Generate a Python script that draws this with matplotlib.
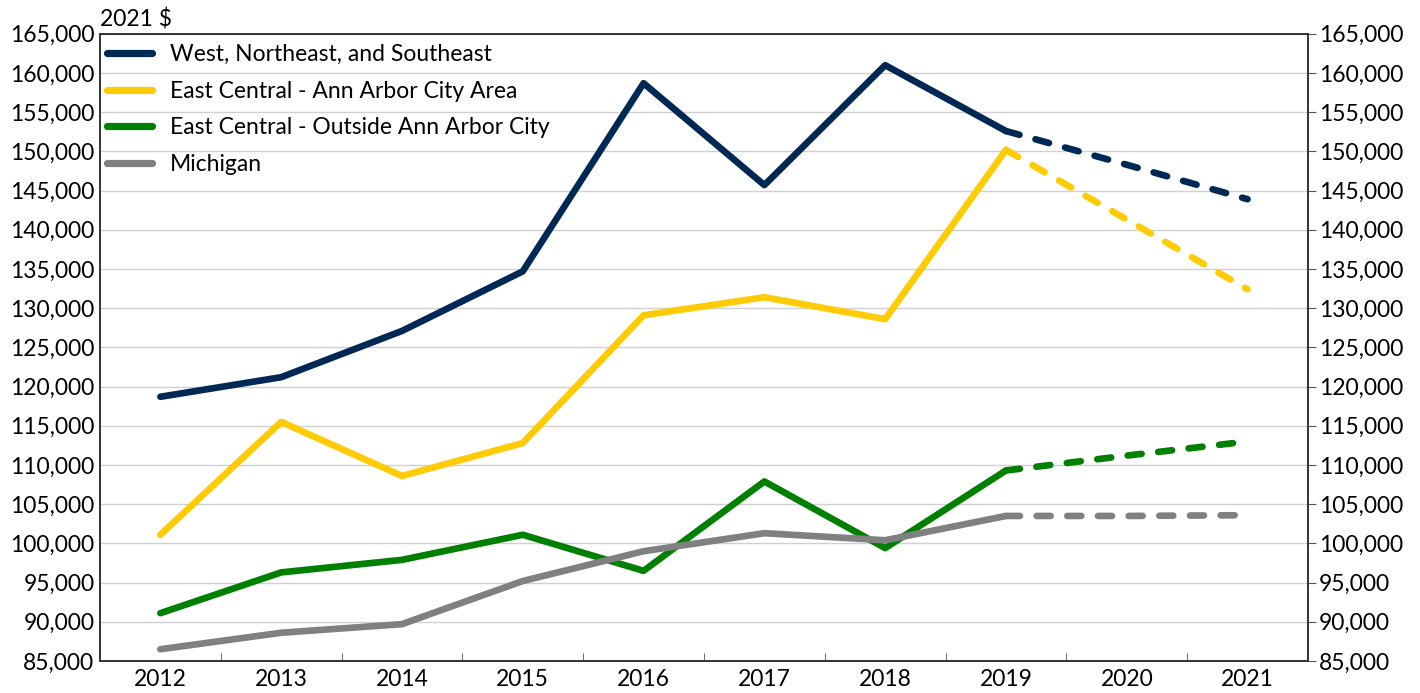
import numpy as np
import matplotlib.pyplot as plt
from matplotlib.ticker import FuncFormatter, MultipleLocator

# Data (2021 $)
years = ["2012", "2013", "2014", "2015", "2016", "2017", "2018", "2019", "2020", "2021"]
west = [118700, 121200, 127100, 134700, 158700, 145700, 161000, 152600, 148300, 143900]
aa_city = [101100, 115500, 108600, 112800, 129100, 131400, 128600, 150200, 141300, 132400]
aa_outside = [91100, 96300, 97900, 101100, 96500, 107900, 99400, 109300, 111200, 113000]
michigan = [86500, 88600, 89700, 95200, 99000, 101300, 100400, 103500, 103500, 103600]

labels = ["West, Northeast, and Southeast", "East Central - Ann Arbor City Area",
          "East Central - Outside Ann Arbor City", "Michigan"]
colors = ["#002855", "#FFCB05", "#008000", "#808080"]
split = 7  # index of 2019: solid before, dashed after

plt.rcParams['font.family'] = ['Lato', 'DejaVu Sans']
fs = 16.5

fig = plt.figure(figsize=(14.2, 6.93), dpi=100)
ax = fig.add_axes([0.0704, 0.0462, 0.8507, 0.905])

x = np.arange(len(years))
lw = 4.8
for vals, lab, c in zip([west, aa_city, aa_outside, michigan], labels, colors):
    ax.plot(x[:split + 1], vals[:split + 1], color=c, lw=lw, label=lab,
            solid_capstyle='round', solid_joinstyle='round', zorder=3)
    ax.plot(x[split:], vals[split:], color=c, lw=lw, dashes=(2.1, 2.5),
            dash_capstyle='round', dash_joinstyle='round', zorder=3)

ax.set_xlim(-0.5, len(years) - 0.5)
ax.set_ylim(85000, 165000)
ax.yaxis.set_major_locator(MultipleLocator(5000))
fmt = FuncFormatter(lambda v, p: f"{int(v):,}")
ax.yaxis.set_major_formatter(fmt)
ax.grid(axis='y', color='#d0d0d0', lw=1, zorder=0)
ax.set_axisbelow(True)

ax.set_xticks(x)
ax.set_xticklabels(years)
ax.set_xticks(x[:-1] + 0.5, minor=True)
ax.tick_params(axis='x', which='major', length=0, labelsize=fs, pad=6)
ax.tick_params(axis='x', which='minor', length=6, direction='in', color='#555555')
ax.tick_params(axis='y', length=0, labelsize=fs, pad=4)

for s in ax.spines.values():
    s.set_color('#333333')
    s.set_linewidth(1.2)

ax2 = ax.twinx()
ax2.set_ylim(ax.get_ylim())
ax2.yaxis.set_major_locator(MultipleLocator(5000))
ax2.yaxis.set_major_formatter(fmt)
ax2.tick_params(axis='y', length=6, direction='out', labelsize=fs, pad=2, color='#555555')
for s in ax2.spines.values():
    s.set_color('#333333')
    s.set_linewidth(1.2)

ax.text(0.0, 1.006, "2021 $", transform=ax.transAxes, fontsize=fs, ha='left', va='bottom')

leg = ax.legend(loc='upper left', frameon=False, fontsize=fs, handlelength=2.0,
                handletextpad=0.75, labelspacing=0.68, borderaxespad=0.0,
                borderpad=0.45, bbox_to_anchor=(-0.003, 1.0))
for h in leg.get_lines():
    h.set_linewidth(5.2)

fig.savefig("out.png", dpi=100)
